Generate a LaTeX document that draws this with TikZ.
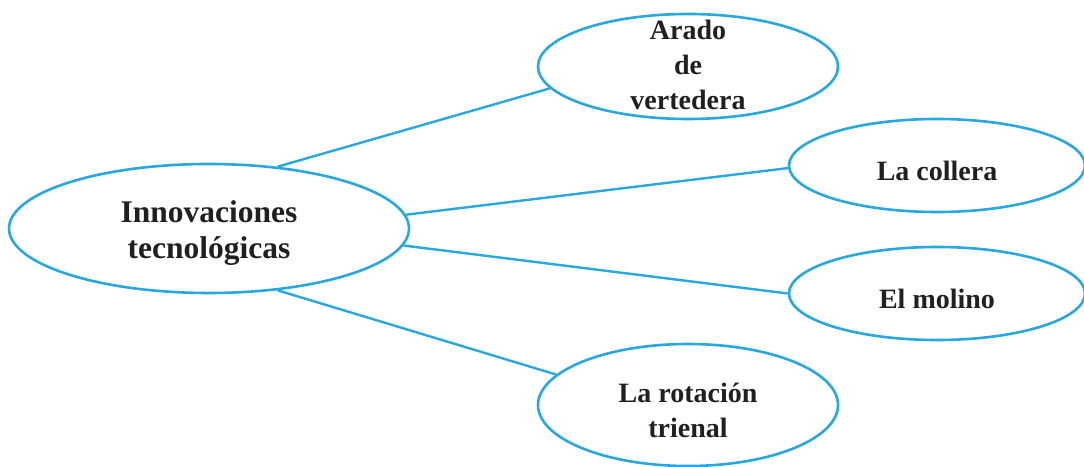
\documentclass[tikz,border=0pt]{standalone}
\usepackage{fontspec}
\setmainfont{Liberation Serif}
\usetikzlibrary{shapes.geometric}
\definecolor{lineblue}{HTML}{29A8E0}
\definecolor{txt}{HTML}{231F20}
\begin{document}
\begin{tikzpicture}[x=1pt,y=1pt,
  bubble/.style={draw=lineblue, line width=2.6pt, ellipse, inner sep=0pt},
  link/.style={draw=lineblue, line width=2.4pt},
  lab/.style={text=txt, align=center, font=\bfseries\fontsize{28}{35}\selectfont, inner sep=0pt},
  biglab/.style={lab, font=\bfseries\fontsize{31.5}{36}\selectfont}]
\useasboundingbox (0,0) rectangle (1084,466);
\clip (0,0) rectangle (1084,466);
\node[bubble, minimum width=400pt, minimum height=129pt] (c) at (209,237.5) {};
\node[bubble, minimum width=300pt, minimum height=105pt] (a) at (688,399.5) {};
\node[bubble, minimum width=296pt, minimum height=93pt] (b) at (937,300.5) {};
\node[bubble, minimum width=296pt, minimum height=93pt] (m) at (937,172.5) {};
\node[bubble, minimum width=300pt, minimum height=122pt] (r) at (688,61) {};
\node[biglab] (ct) at (209,233) {Innovaciones\\tecnológicas};
\node[lab] (at) at (688,401.5) {Arado\\de\\vertedera};
\node[lab, anchor=base] (bt) at (937,285) {La collera};
\node[lab, anchor=base] (mt) at (937,157) {El molino};
\node[lab] (rt) at (688,55.7) {La rotación\\trienal};
\draw[link] (c.42) -- (a.189);
\draw[link] (c.4) -- (b.181);
\draw[link] (c.-5) -- (m.180);
\draw[link] (c.-42) -- (r.167);
\end{tikzpicture}
\end{document}
